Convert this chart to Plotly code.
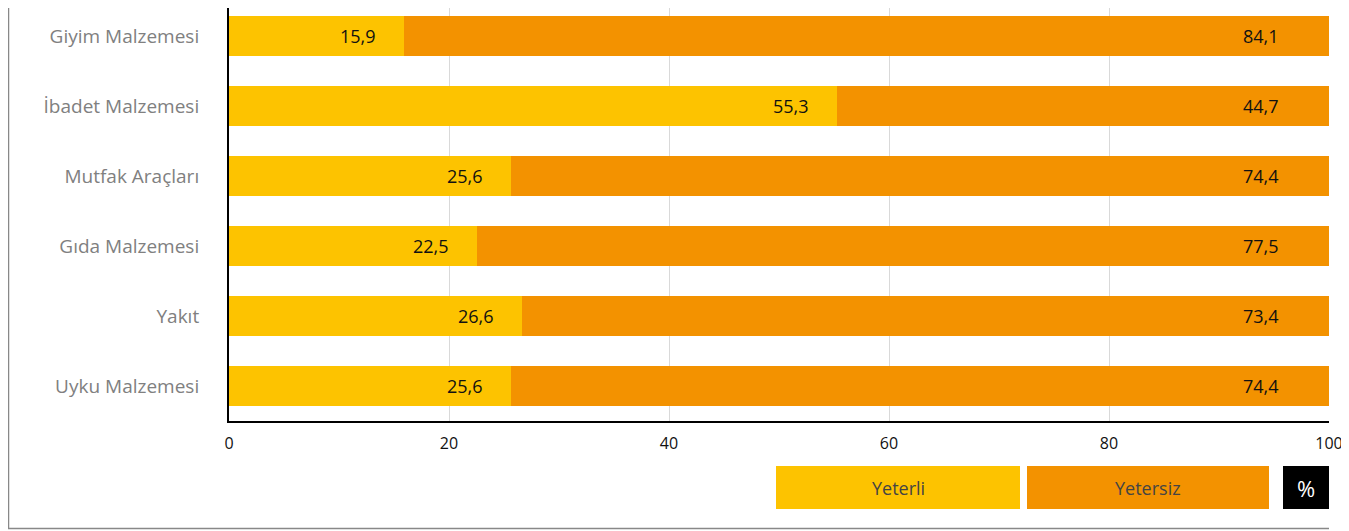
import plotly.graph_objects as go

categories = ["Giyim Malzemesi", "İbadet Malzemesi", "Mutfak Araçları",
              "Gıda Malzemesi", "Yakıt", "Uyku Malzemesi"]
yeterli = [15.9, 55.3, 25.6, 22.5, 26.6, 25.6]
yetersiz = [84.1, 44.7, 74.4, 77.5, 73.4, 74.4]
tick_vals = [0, 20, 40, 60, 80, 100]
series_names = ["Yeterli", "Yetersiz"]
unit_label = "%"

YELLOW = "#FDC300"
ORANGE = "#F39200"
FONT = "Open Sans"

OFF = 8  # page body margin
W, H = 1341, 523
L, R, T, B = 221, 20, 0, 110
pw, ph = W - L - R, H - T - B


def px_x(page_x):
    return (page_x - OFF - L) / pw


def px_y(page_y):
    return (H - B - (page_y - OFF)) / ph


def fmt(v):
    return f"{v:.1f}".replace(".", ",")


fig = go.Figure()
fig.add_bar(y=categories, x=yeterli, orientation="h", name=series_names[0],
            marker=dict(color=YELLOW, line=dict(width=0)), showlegend=False)
fig.add_bar(y=categories, x=yetersiz, orientation="h", name=series_names[1],
            marker=dict(color=ORANGE, line=dict(width=0)), showlegend=False)

annotations = []
for c, a, b in zip(categories, yeterli, yetersiz):
    annotations.append(dict(x=a, y=c, xref="x", yref="y", text=fmt(a),
                            showarrow=False, xanchor="right", xshift=-26,
                            font=dict(family=FONT, size=18, color="#111")))
    annotations.append(dict(x=a + b, y=c, xref="x", yref="y", text=fmt(b),
                            showarrow=False, xanchor="right", xshift=-48,
                            font=dict(family=FONT, size=18, color="#111")))

# legend boxes
boxes = [(776, 1020, YELLOW, series_names[0], "#444", 18),
         (1027, 1269, ORANGE, series_names[1], "#444", 18),
         (1283, 1329, "#000000", unit_label, "#ffffff", 22)]
shapes = []
for x0, x1, col, txt, tcol, fs in boxes:
    shapes.append(dict(type="rect", xref="paper", yref="paper",
                       x0=px_x(x0), x1=px_x(x1), y0=px_y(509), y1=px_y(466),
                       fillcolor=col, line=dict(width=0), layer="above"))
    annotations.append(dict(x=px_x((x0 + x1) / 2), y=px_y(487.5), xref="paper",
                            yref="paper", text=txt, showarrow=False,
                            xanchor="center", yanchor="middle",
                            font=dict(family=FONT, size=fs, color=tcol)))

# frame lines
shapes.append(dict(type="line", xref="paper", yref="paper",
                   x0=px_x(8.5), x1=px_x(8.5), y0=px_y(8), y1=px_y(529),
                   line=dict(color="#888888", width=1.5)))
shapes.append(dict(type="line", xref="paper", yref="paper",
                   x0=px_x(8), x1=px_x(1329), y0=px_y(528.5), y1=px_y(528.5),
                   line=dict(color="#888888", width=1.5)))

fig.update_layout(
    width=W, height=H, barmode="stack", bargap=0.43,
    margin=dict(l=L, r=R, t=T, b=B, autoexpand=False),
    paper_bgcolor="white", plot_bgcolor="white",
    annotations=annotations, shapes=shapes,
    font=dict(family=FONT),
    xaxis=dict(range=[0, 100], tickvals=tick_vals,
               ticktext=[str(v) for v in tick_vals],
               showgrid=True, gridcolor="#d9d9d9", gridwidth=1,
               showline=True, linecolor="#000", linewidth=2,
               zeroline=False, ticks="", ticklabelstandoff=7,
               tickfont=dict(family=FONT, size=16, color="#111"),
               fixedrange=True),
    yaxis=dict(categoryorder="array", categoryarray=categories,
               range=[5.5, -0.4],
               showline=True, linecolor="#000", linewidth=2,
               showgrid=False, ticks="", ticklabelstandoff=24,
               tickfont=dict(family=FONT, size=19, color="#808080"),
               fixedrange=True),
)

fig.write_html("out.html")
